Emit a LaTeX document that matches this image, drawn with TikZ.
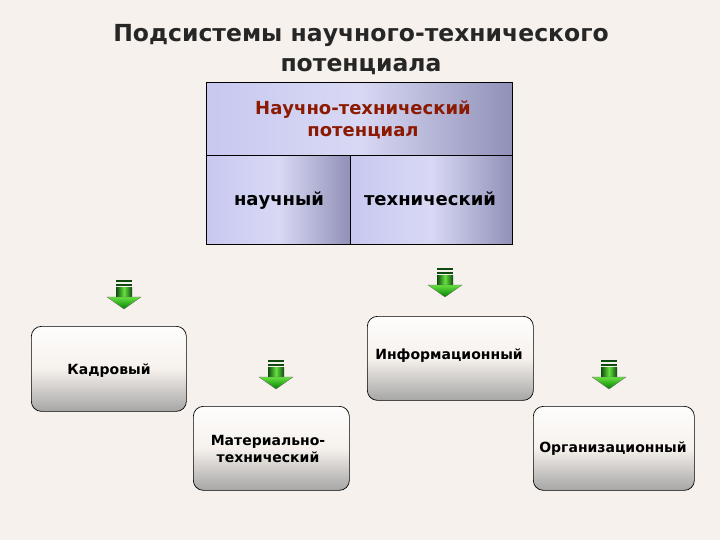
\documentclass[tikz,border=0pt]{standalone}
\usepackage{fontspec}
\setmainfont{DejaVu Sans}
\usetikzlibrary{shadings}
\definecolor{bg}{HTML}{F6F1EC}
\definecolor{blu}{HTML}{C8C8F0}
\definecolor{blud}{HTML}{9090B8}
\definecolor{redt}{HTML}{8B1A00}
\definecolor{gdark}{HTML}{0E4A0E}
\definecolor{glight}{HTML}{66E040}
\tikzset{
  cell/.style={draw=black,line width=0.8pt,left color=blu,right color=blud,middle color=blu!70!white},
  rbox/.style={draw=black,line width=0.7pt,rounded corners=10pt,top color=white!90!bg,bottom color=black!35,middle color=bg},
  lab/.style={font=\bfseries\fontsize{14}{17}\selectfont,align=center},
  big/.style={font=\bfseries\fontsize{18}{22}\selectfont,align=center},
}
\newcommand{\garrow}[3]{% name, x, y top
  \coordinate (#1) at (#2,#3);
  \fill[gdark] ([xshift=-8pt]#1) rectangle ([xshift=8pt,yshift=-2pt]#1);
  \fill[gdark] ([xshift=-8pt,yshift=-4pt]#1) rectangle ([xshift=8pt,yshift=-6pt]#1);
  \shade[left color=gdark,right color=gdark,middle color=glight] ([xshift=-8pt,yshift=-7pt]#1) rectangle ([xshift=8pt,yshift=-17pt]#1);
  \shade[top color=glight,bottom color=green!50!black,draw=black!60,line width=0.3pt] ([xshift=-17pt,yshift=-17pt]#1) -- ([xshift=17pt,yshift=-17pt]#1) -- ([yshift=-29pt]#1) -- cycle;
}
\begin{document}
\begin{tikzpicture}[x=1pt,y=-1pt]
\fill[bg] (0,0) rectangle (720,540);
\useasboundingbox (0,0) rectangle (720,540);
\node[font=\bfseries\fontsize{23.5}{30}\selectfont,align=center,text=black!85] (title) at (361,50) {Подсистемы научного-технического\\потенциала};
\node[cell,minimum width=306pt,minimum height=73pt,anchor=north west,inner sep=0pt] (top) at (206,82) {};
\node[text=redt,big] (toplab) at (363,120) {Научно-технический\\потенциал};
\node[cell,minimum width=144pt,minimum height=89pt,anchor=north west,inner sep=0pt] (sci) at (206,155) {};
\node[cell,minimum width=162pt,minimum height=89pt,anchor=north west,inner sep=0pt] (tech) at (350,155) {};
\node[big] at (279,201) {научный};
\node[big] at (430,199) {технический};
\garrow{a1}{124}{280}
\garrow{a2}{445}{268}
\garrow{a3}{276}{360}
\garrow{a4}{609}{360}
\node[rbox,minimum width=155pt,minimum height=85pt,anchor=north west] (kad) at (31,326) {};
\node[lab] at (109,371) {Кадровый};
\node[rbox,minimum width=166pt,minimum height=84pt,anchor=north west] (inf) at (367,316) {};
\node[lab] at (449,356) {Информационный};
\node[rbox,minimum width=156pt,minimum height=84pt,anchor=north west] (mat) at (193,406) {};
\node[lab] at (268,449) {Материально-\\технический};
\node[rbox,minimum width=161pt,minimum height=84pt,anchor=north west] (org) at (533,406) {};
\node[lab] at (613,449) {Организационный};
\end{tikzpicture}
\end{document}
